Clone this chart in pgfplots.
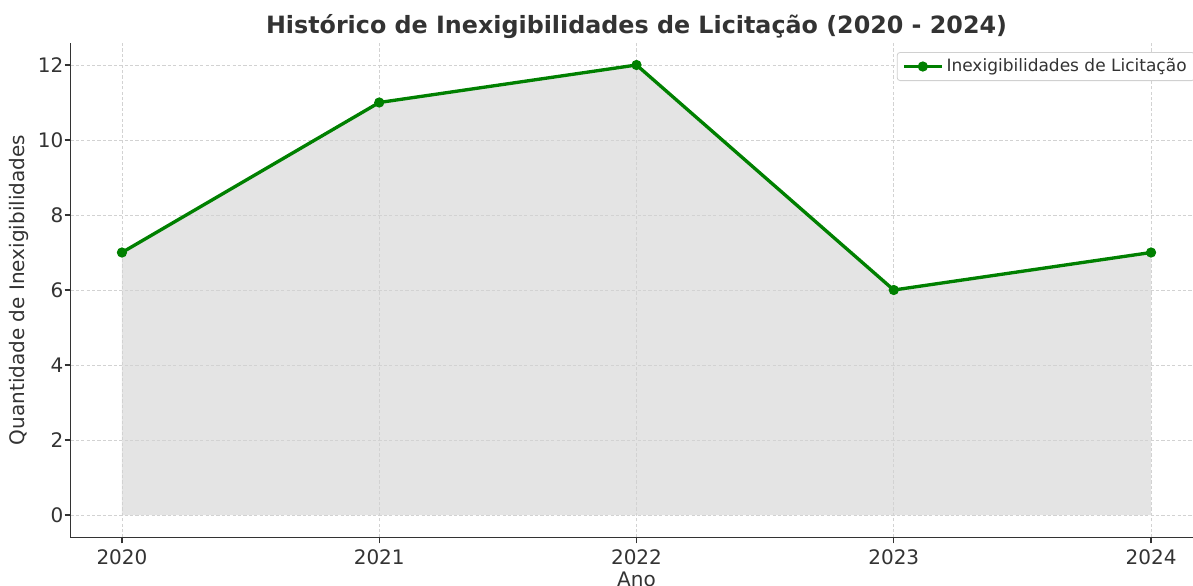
\documentclass[border=0pt]{standalone}
\usepackage{fontspec}
\setmainfont{DejaVu Sans}
\usepackage{pgfplots}
\pgfplotsset{compat=1.18}
\definecolor{txt}{HTML}{333333}
\definecolor{gridc}{HTML}{D2D2D2}
\definecolor{legc}{HTML}{D0D0D0}
\definecolor{fillc}{HTML}{E4E4E4}
\definecolor{mplgreen}{HTML}{008000}
\begin{document}
\begin{tikzpicture}
\begin{axis}[
  set layers,
  at={(0,0)}, anchor=south west,
  scale only axis,
  width=566pt, height=247.5pt,
  xmin=2019.8, xmax=2024.2,
  ymin=-0.6, ymax=12.6,
  xtick={2020,2021,2022,2023,2024},
  ytick={0,2,4,6,8,10,12},
  /pgf/number format/1000 sep={},
  /pgf/number format/assume math mode=true,
  axis x line*=bottom, axis y line*=left,
  axis line style={-, txt, line width=0.7pt},
  tick align=outside,
  major tick length=2.9pt,
  tick style={txt, line width=0.6pt},
  grid=major,
  grid style={gridc, dash pattern=on 1.6pt off 1.1pt, line width=0.4pt},
  ticklabel style={font=\fontsize{10}{12}\selectfont, text=txt},
  yticklabel style={xshift=2.8pt},
  xticklabel style={yshift=0.5pt},
  xlabel={Ano},
  ylabel={Quantidade de Inexigibilidades},
  label style={font=\fontsize{10}{12}\selectfont, text=txt},
  xlabel style={at={(axis description cs:0.5,0)}, anchor=base, yshift=-24.25pt},
  ylabel style={at={(axis description cs:-0.0455,0.5)}, anchor=center},
  title={Histórico de Inexigibilidades de Licitação (2020 - 2024)},
  every axis title shift=0pt,
  title style={font=\fontsize{11.9}{14}\selectfont\bfseries, text=txt, at={(0.5,1)}, anchor=base, yshift=4.75pt},
  legend style={at={(1,1)}, anchor=north east, xshift=-3.75pt, yshift=-4.75pt,
    font=\fontsize{8.5}{10}\selectfont, text=txt, draw=legc, rounded corners=1.5pt,
    inner xsep=2.5pt, inner ysep=1.5pt, row sep=0pt,
    nodes={inner sep=1.5pt}},
  legend cell align=left,
  legend image code/.code={
    \draw[mark repeat=2, mark phase=2, #1] plot coordinates {(0pt,0pt) (9.5pt,0pt) (19pt,0pt)};
  },
]
\addplot[on layer=axis background, fill=fillc, draw=none, forget plot]
  coordinates {(2020,7) (2021,11) (2022,12) (2023,6) (2024,7)} \closedcycle;
\addplot[mplgreen, line width=1.67pt, mark=*, mark size=2.3pt, mark options={solid, line width=0.5pt}]
  coordinates {(2020,7) (2021,11) (2022,12) (2023,6) (2024,7)};
\addlegendentry{Inexigibilidades de Licitação}
\end{axis}
\pgfresetboundingbox
\path[use as bounding box] (-35.25pt,-23.75pt) rectangle (561.25pt,268.75pt);
\end{tikzpicture}
\end{document}
